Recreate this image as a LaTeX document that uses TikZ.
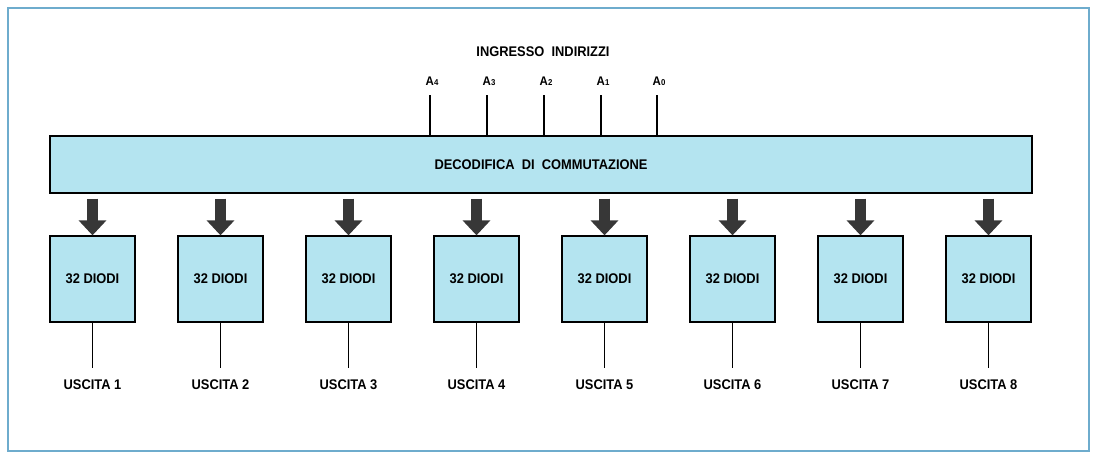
\documentclass[tikz,border=0pt]{standalone}
\usepackage{fontspec}
\setmainfont{Liberation Sans}[FakeStretch=0.92]
\usepackage{xcolor}
\usetikzlibrary{shapes,arrows.meta,positioning,calc}
\definecolor{diodecyan}{RGB}{180,228,240}
\definecolor{frameblue}{RGB}{110,172,205}
\definecolor{arrowgray}{RGB}{55,55,55}
\newcommand{\addr}[1]{A{\fontsize{8.5}{8.5}\selectfont #1}}

\begin{document}
\begin{tikzpicture}[
    x=1pt, y=-1pt,
    node distance=41.7pt,
    every node/.style={font=\bfseries\fontsize{14}{16}\selectfont},
    diodi/.style={draw, rectangle, line width=1.3pt, fill=diodecyan, minimum width=85pt, minimum height=86pt, inner sep=0pt},
    feed/.style={line width=11pt, draw=arrowgray, shorten <=5pt, -{Triangle[width=27pt,length=15pt]}},
    wire/.style={line width=1.2pt}
]
\useasboundingbox (0,0) rectangle (1093,456);
\draw[frameblue, line width=1.6pt] (8,8) rectangle (1089,451);

% Address inputs
\node (title) at (543,52) {INGRESSO\ \ INDIRIZZI};
\node[anchor=base west, inner sep=0pt, font=\bfseries\fontsize{12.5}{14}\selectfont] (lbla4) at (425.5,85) {\addr{4}};
\node[anchor=base west, inner sep=0pt, font=\bfseries\fontsize{12.5}{14}\selectfont] (lbla3) at (482.5,85) {\addr{3}};
\node[anchor=base west, inner sep=0pt, font=\bfseries\fontsize{12.5}{14}\selectfont] (lbla2) at (539.5,85) {\addr{2}};
\node[anchor=base west, inner sep=0pt, font=\bfseries\fontsize{12.5}{14}\selectfont] (lbla1) at (596.5,85) {\addr{1}};
\node[anchor=base west, inner sep=0pt, font=\bfseries\fontsize{12.5}{14}\selectfont] (lbla0) at (652.5,85) {\addr{0}};
\coordinate (a4) at (430,95);
\coordinate (a3) at (487,95);
\coordinate (a2) at (544,95);
\coordinate (a1) at (601,95);
\coordinate (a0) at (657,95);

% Decoder
\node[draw, rectangle, line width=1.3pt, fill=diodecyan, minimum width=982pt, minimum height=57pt] (decoder) at (541,164.5) {DECODIFICA\ \ DI\ \ COMMUTAZIONE};
\draw[wire] (a4) -- (a4 |- decoder.north);
\draw[wire] (a3) -- (a3 |- decoder.north);
\draw[wire] (a2) -- (a2 |- decoder.north);
\draw[wire] (a1) -- (a1 |- decoder.north);
\draw[wire] (a0) -- (a0 |- decoder.north);

% Diode blocks
\node[diodi] (diodi1) at (92.5,279) {32 DIODI};
\node[diodi, right=of diodi1] (diodi2) {32 DIODI};
\node[diodi, right=of diodi2] (diodi3) {32 DIODI};
\node[diodi, right=of diodi3] (diodi4) {32 DIODI};
\node[diodi, right=of diodi4] (diodi5) {32 DIODI};
\node[diodi, right=of diodi5] (diodi6) {32 DIODI};
\node[diodi, right=of diodi6] (diodi7) {32 DIODI};
\node[diodi, right=of diodi7] (diodi8) {32 DIODI};

% Outputs
\node[below=54pt of diodi1] (uscita1) {USCITA 1};
\node[below=54pt of diodi2] (uscita2) {USCITA 2};
\node[below=54pt of diodi3] (uscita3) {USCITA 3};
\node[below=54pt of diodi4] (uscita4) {USCITA 4};
\node[below=54pt of diodi5] (uscita5) {USCITA 5};
\node[below=54pt of diodi6] (uscita6) {USCITA 6};
\node[below=54pt of diodi7] (uscita7) {USCITA 7};
\node[below=54pt of diodi8] (uscita8) {USCITA 8};

\foreach \i in {1,...,8} {
    \draw[feed] (decoder.south -| diodi\i.north) -- (diodi\i.north);
    \draw[wire, shorten >=9pt] (diodi\i.south) -- (uscita\i.north);
}

\end{tikzpicture}
\end{document}
